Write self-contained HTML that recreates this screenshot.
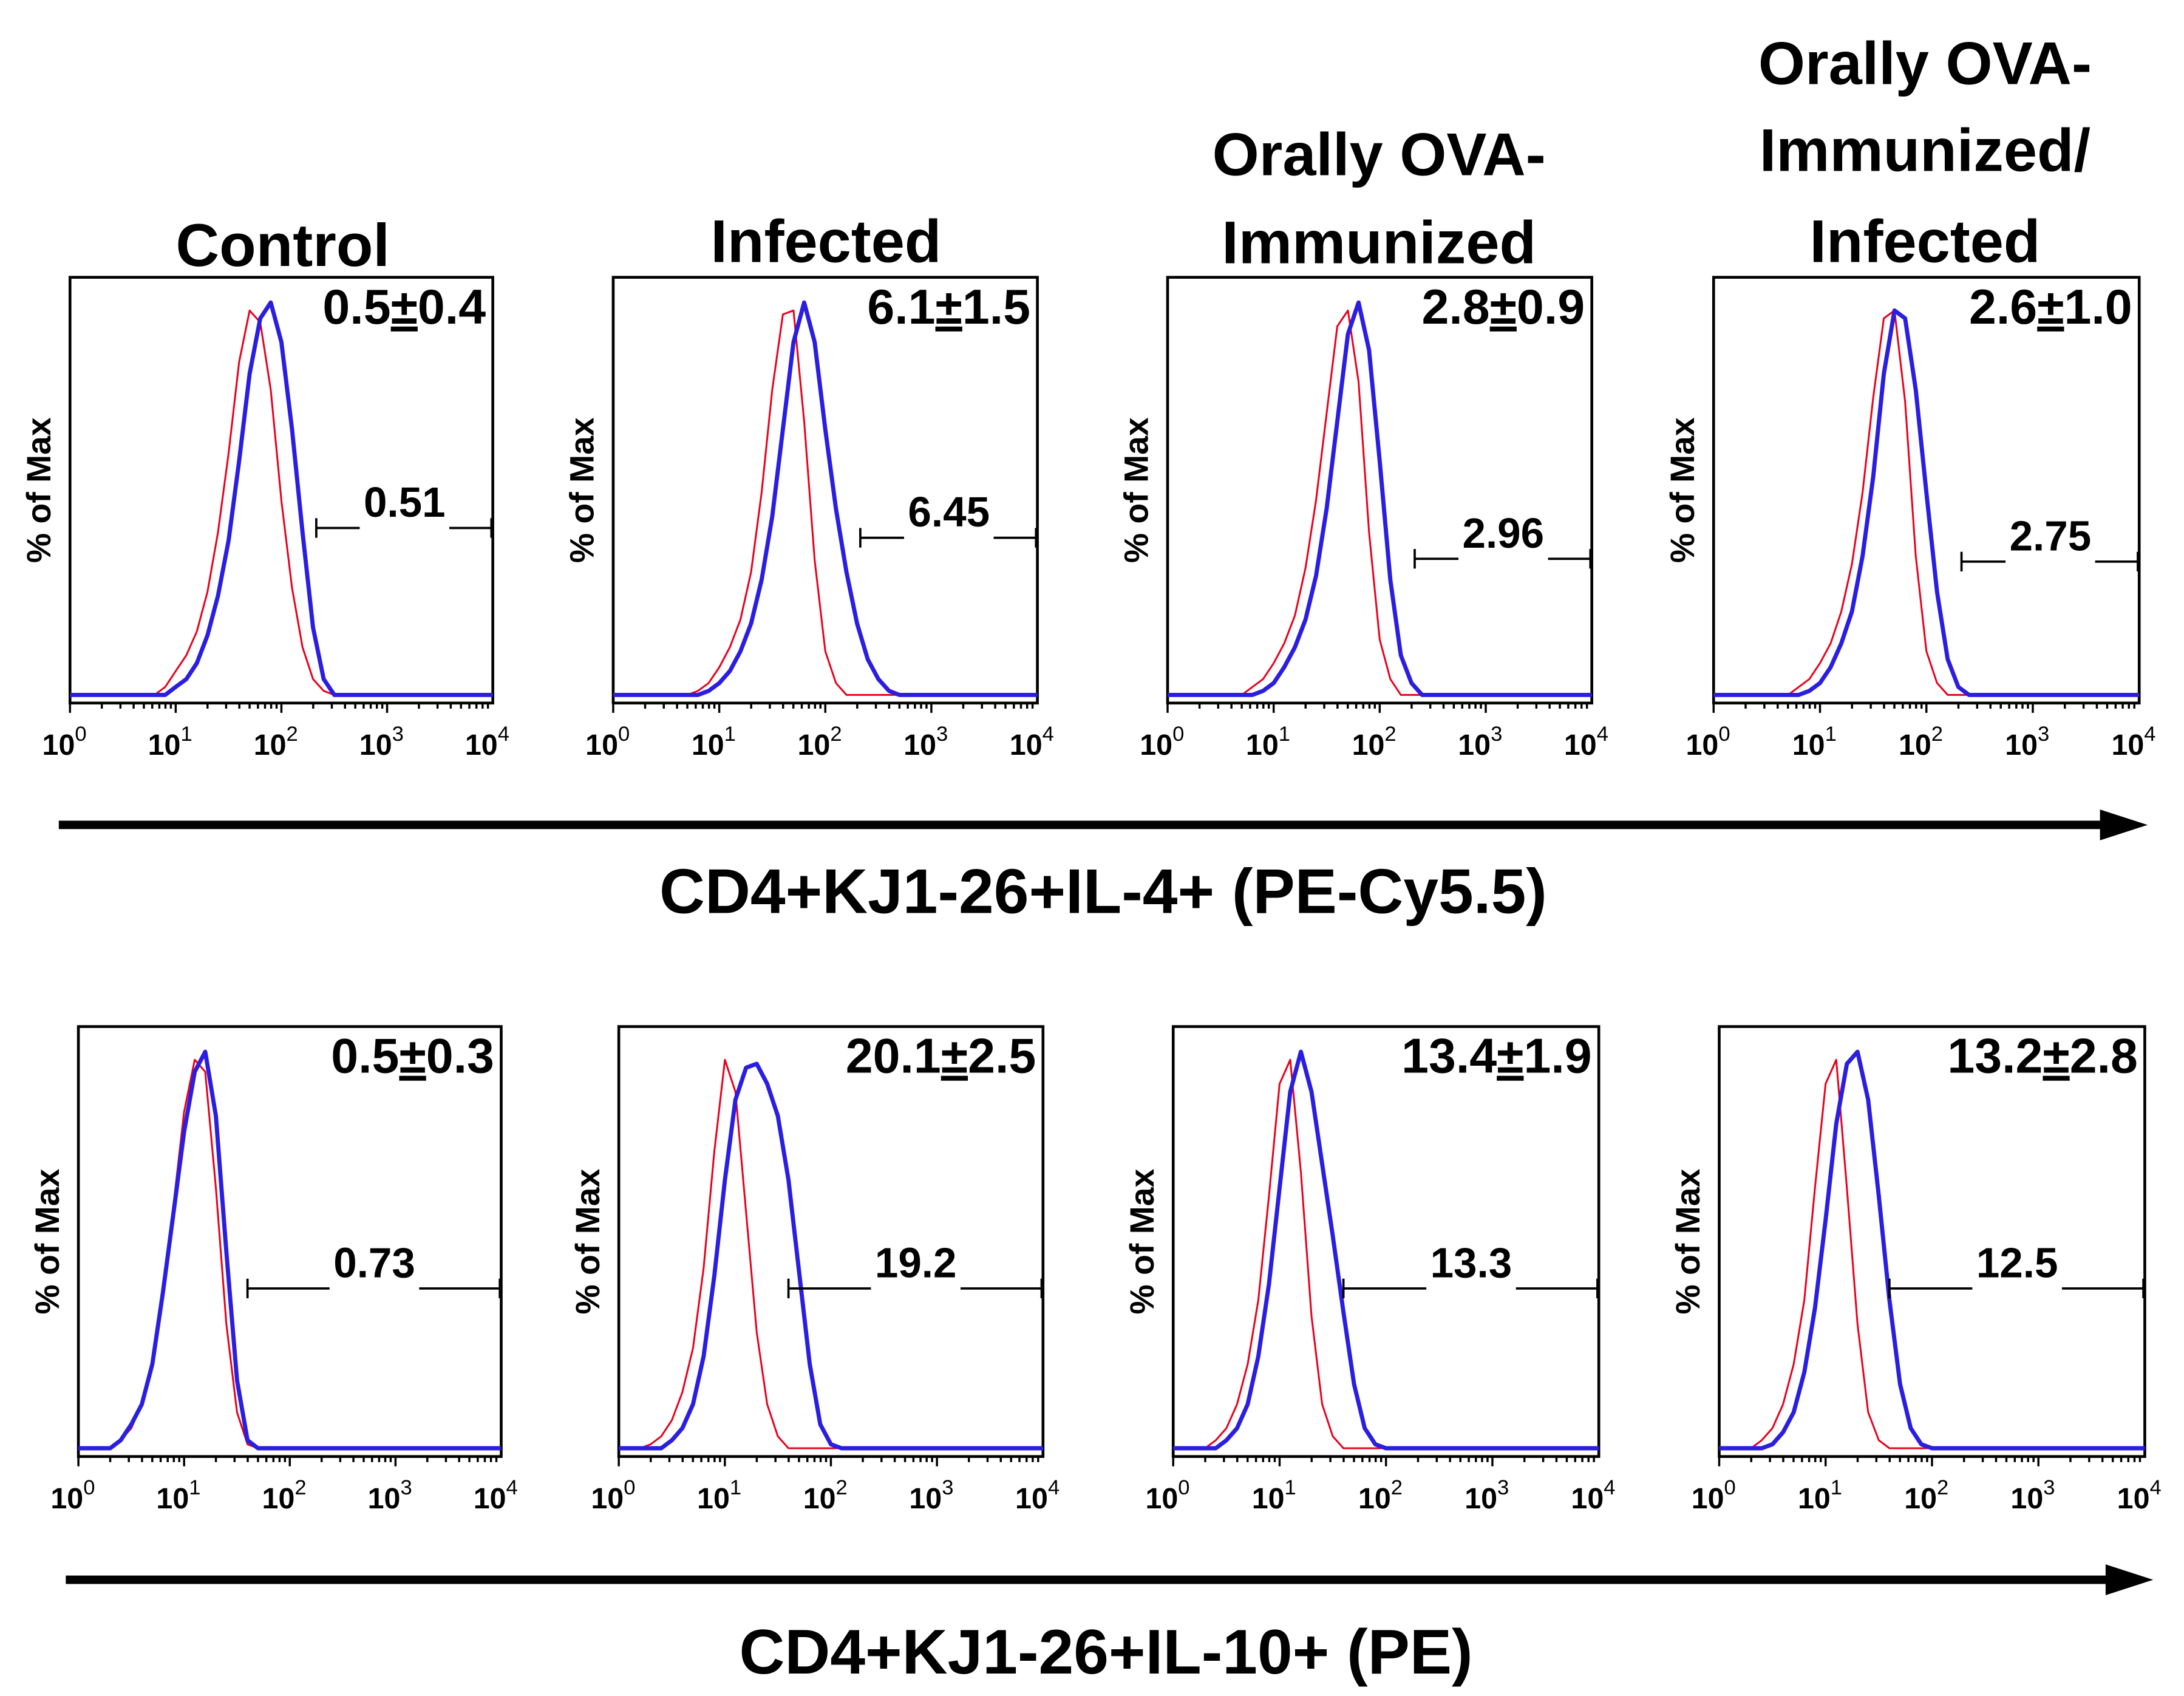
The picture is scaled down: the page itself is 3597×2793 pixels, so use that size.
<!DOCTYPE html>
<html><head><meta charset="utf-8"><style>
html,body{margin:0;padding:0;background:#fff}
svg{display:block}
text{font-family:"Liberation Sans",sans-serif;font-weight:bold;fill:#000}
</style></head><body>
<svg id="fig" width="3597" height="2793" viewBox="0 0 1560 1211" preserveAspectRatio="none" xmlns="http://www.w3.org/2000/svg">
<rect x="0" y="0" width="1560" height="1211" fill="#fff"/>
<g font-size="43" text-anchor="middle">
<text x="202" y="190">Control</text>
<text x="590" y="187">Infected</text>
<text x="985" y="125">Orally OVA-</text>
<text x="985" y="188">Immunized</text>
<text x="1375" y="60">Orally OVA-</text>
<text x="1375" y="122">Immunized/</text>
<text x="1375" y="187">Infected</text>
</g>
<g id="panels"></g>
<g>
<line x1="42" y1="589" x2="1505" y2="589" stroke="#000" stroke-width="6"/>
<polygon points="1500,578 1534,589 1500,600" fill="#000"/>
</g>
<text x="788" y="652" font-size="45" text-anchor="middle">CD4+KJ1-26+IL-4+ (PE-Cy5.5)</text>
<g>
<line x1="47" y1="1128" x2="1509" y2="1128" stroke="#000" stroke-width="6"/>
<polygon points="1504,1117 1538,1128 1504,1139" fill="#000"/>
</g>
<text x="790" y="1195" font-size="45" text-anchor="middle">CD4+KJ1-26+IL-10+ (PE)</text>
</svg>
<script>
// Histogram heights (% of max) sampled at log10 intensity 0.0,0.1,...,4.0
const r1=[1,1,1,1,1,1,1,1,1,3,7,11,17,27,42,62,85,98,95,78,50,28,13,5,2,1,1,1,1,1,1,1,1,1,1,1,1,1,1,1,1];
const b1=[1,1,1,1,1,1,1,1,1,1,3,5,9,16,26,40,60,82,96,100,90,68,42,18,5,1,1,1,1,1,1,1,1,1,1,1,1,1,1,1,1];
const r2=[1,1,1,1,1,1,1,1,2,4,8,13,20,32,52,78,97,98,70,35,12,4,1,1,1,1,1,1,1,1,1,1,1,1,1,1,1,1,1,1,1];
const b2=[1,1,1,1,1,1,1,1,1,2,4,7,12,19,30,46,68,90,100,90,68,48,32,19,10,5,2,1,1,1,1,1,1,1,1,1,1,1,1,1,1];
const r3=[1,1,1,1,1,1,1,1,3,5,9,14,21,33,50,72,94,98,80,42,15,5,1,1,1,1,1,1,1,1,1,1,1,1,1,1,1,1,1,1,1];
const b3=[1,1,1,1,1,1,1,1,1,2,4,8,13,20,31,48,70,92,100,88,60,30,11,4,1,1,1,1,1,1,1,1,1,1,1,1,1,1,1,1,1];
const r4=[1,1,1,1,1,1,1,1,3,5,9,14,22,34,52,76,96,98,75,36,12,4,1,1,1,1,1,1,1,1,1,1,1,1,1,1,1,1,1,1,1];
const b4=[1,1,1,1,1,1,1,1,1,2,4,8,14,22,36,56,82,98,96,78,52,27,10,3,1,1,1,1,1,1,1,1,1,1,1,1,1,1,1,1,1];
const r5=[1,1,1,1,3,6,12,22,40,62,85,98,95,66,32,10,2,1,1,1,1,1,1,1,1,1,1,1,1,1,1,1,1,1,1,1,1,1,1,1,1];
const b5=[1,1,1,1,3,7,12,22,40,60,80,95,100,84,50,18,3,1,1,1,1,1,1,1,1,1,1,1,1,1,1,1,1,1,1,1,1,1,1,1,1];
const r6=[1,1,1,2,4,8,15,26,46,75,98,90,60,30,12,4,1,1,1,1,1,1,1,1,1,1,1,1,1,1,1,1,1,1,1,1,1,1,1,1,1];
const b6=[1,1,1,1,1,3,6,12,24,44,68,88,96,97,92,84,68,45,22,7,2,1,1,1,1,1,1,1,1,1,1,1,1,1,1,1,1,1,1,1,1];
const r7=[1,1,1,1,3,6,12,22,38,64,92,98,70,34,12,4,1,1,1,1,1,1,1,1,1,1,1,1,1,1,1,1,1,1,1,1,1,1,1,1,1];
const b7=[1,1,1,1,1,3,6,12,24,42,66,90,100,90,72,54,35,17,6,2,1,1,1,1,1,1,1,1,1,1,1,1,1,1,1,1,1,1,1,1,1];
const r8=[1,1,1,1,3,6,12,22,38,66,92,98,66,32,10,3,1,1,1,1,1,1,1,1,1,1,1,1,1,1,1,1,1,1,1,1,1,1,1,1,1];
const b8=[1,1,1,1,1,2,5,10,20,36,58,82,97,100,88,64,38,17,6,2,1,1,1,1,1,1,1,1,1,1,1,1,1,1,1,1,1,1,1,1,1];
const redSeries=[r1,r2,r3,r4,r5,r6,r7,r8];
const blueSeries=[b1,b2,b3,b4,b5,b6,b7,b8];
const meanLabels=["0.5±0.4","6.1±1.5","2.8±0.9","2.6±1.0","0.5±0.3","20.1±2.5","13.4±1.9","13.2±2.8"];
const gateLabels=["0.51","6.45","2.96","2.75","0.73","19.2","13.3","12.5"];
const gateStart=[2.33,2.33,2.33,2.33,1.6,1.6,1.6,1.6];
const tickLabels=["0","1","2","3","4"];

const boxes=[[50,198,352,502],[438,198,741,502],[834,198,1137,502],[1224,198,1528,502],
             [56,733,358,1040],[442,733,745,1040],[838,733,1142,1040],[1228,733,1532,1040]];
const gateY=[377,384,399,401,920,920,920,920];
const NS="http://www.w3.org/2000/svg";
const root=document.getElementById('panels');
function mk(t,a,p){const e=document.createElementNS(NS,t);for(const k in a)e.setAttribute(k,a[k]);p.appendChild(e);return e;}

boxes.forEach((b,i)=>{
  const [x0,y0,x1,y1]=b;
  const xs=v=>x0+(v/4)*(x1-x0);
  const ys=v=>y1-3-(v/100)*(y1-y0-21);
  const g=mk('g',{},root);
  
  
  const fr=mk('rect',{x:x0,y:y0,width:x1-x0,height:y1-y0,fill:'none',stroke:'#000','stroke-width':2},g);
  
  
  for(let d=0;d<4;d++){for(let m=1;m<10;m++){const xv=xs(d+Math.log10(m));const len=m===1?7:4;
    const t=mk('line',{x1:xv,y1:y1,x2:xv,y2:y1+len,stroke:'#000','stroke-width':1.5},g);
    
    }}
  tickLabels.forEach((lab,k)=>{
    const t=mk('text',{x:xs(k)-4,y:y1+37,'font-size':21,'text-anchor':'middle'},g);
    
    
    t.appendChild(document.createTextNode('10'));
    const s=mk('tspan',{dy:-10,'font-size':15,'font-weight':'normal'},t);s.textContent=lab;
  });
  const yl=mk('text',{x:0,y:0,'font-size':24,'text-anchor':'middle',transform:`translate(${x0-14},${(y0+y1)/2}) rotate(-90)`},g);
  
  
  yl.textContent='%  of Max';
  [[redSeries[i],'#e8001c',1.3,'red-histogram'],[blueSeries[i],'#2a1ee0',3,'blue-histogram']].forEach(([arr,c,w,n])=>{
    const pts=arr.map((v,k)=>xs(k/10).toFixed(1)+','+ys(v).toFixed(1)).join(' ');
    const p=mk('polyline',{points:pts,fill:'none',stroke:c,'stroke-width':w,'stroke-linejoin':'round'},g);
    
    
  });
  const parts=meanLabels[i].split('±');
  const mt=mk('text',{x:x1-5,y:y0+33,'font-size':35,'text-anchor':'end'},g);
  
  
  mt.appendChild(document.createTextNode(parts[0]));
  const u=mk('tspan',{'text-decoration':'underline'},mt);u.textContent='±';
  mt.appendChild(document.createTextNode(parts[1]));
  const gx0=xs(gateStart[i]),gy=gateY[i],gm=(gx0+x1)/2;
  const gg=mk('g',{stroke:'#000','stroke-width':1.6},g);
  
  
  mk('line',{x1:gx0,y1:gy,x2:gm-32,y2:gy},gg);
  mk('line',{x1:gm+32,y1:gy,x2:x1,y2:gy},gg);
  mk('line',{x1:gx0,y1:gy-7,x2:gx0,y2:gy+7},gg);
  mk('line',{x1:x1-1,y1:gy-7,x2:x1-1,y2:gy+7},gg);
  const gt=mk('text',{x:gm,y:gy-8,'font-size':30,'font-weight':'normal','text-anchor':'middle'},g);
  
  
  gt.textContent=gateLabels[i];
});
</script>
</body></html>
